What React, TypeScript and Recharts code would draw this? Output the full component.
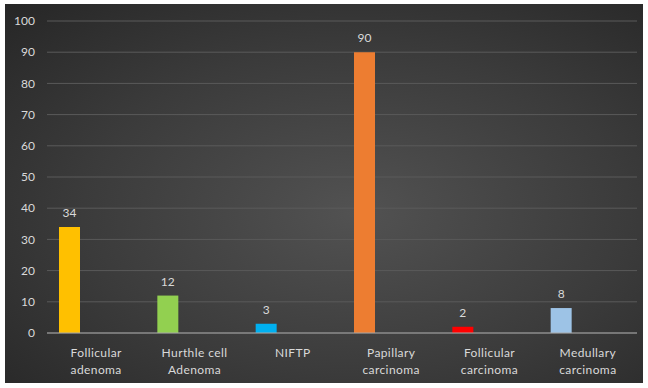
import React from "react";
import { BarChart, Bar, XAxis, YAxis, CartesianGrid, LabelList, Cell } from "recharts";

const categories = [
    ["Follicular", "adenoma"],
    ["Hurthle cell", "Adenoma"],
    ["NIFTP"],
    ["Papillary", "carcinoma"],
    ["Follicular", "carcinoma"],
    ["Medullary", "carcinoma"],
];
const counts = [34, 12, 3, 90, 2, 8];
const barColors = ["#FFC000", "#92D050", "#00B0F0", "#ED7D31", "#FF0000", "#9DC3E6"];
const yTicks = [0, 10, 20, 30, 40, 50, 60, 70, 80, 90, 100];

const data = categories.map((lines, i) => ({
    name: lines.join(" "),
    lines,
    count: counts[i],
}));

const TEXT = "#d9d9d9";
const FONT = "Lato, 'Open Sans', sans-serif";

const CategoryTick = (props: any) => {
    const { x, y, index } = props;
    const lines = categories[index] || [];
    return (
        <text x={x} y={y + 16} textAnchor="middle" fill={TEXT} fontSize={12} fontFamily={FONT} letterSpacing={0.4}>
            {lines.map((l: string, i: number) => (
                <tspan key={i} x={x} dy={i === 0 ? 0 : 17}>
                    {l}
                </tspan>
            ))}
        </text>
    );
};

const App = () => {
    return (
        <div
            style={{
                position: "absolute",
                left: 5,
                top: 4,
                width: 638,
                height: 379,
                background:
                    "radial-gradient(ellipse farthest-corner at 55% 55%, #525252 0%, #3b3b3b 55%, #262626 100%)",
            }}
        >
            <BarChart
                width={638}
                height={379}
                data={data}
                margin={{ top: 17, right: 6, bottom: 5, left: 0 }}
                barCategoryGap={12}
                barGap={5}
            >
                <CartesianGrid vertical={false} stroke="#5a5a5a" strokeWidth={1} />
                <XAxis
                    dataKey="name"
                    height={45}
                    tickLine={false}
                    axisLine={{ stroke: "#a6a6a6", strokeWidth: 1 }}
                    tick={<CategoryTick />}
                    interval={0}
                />
                <YAxis
                    width={42}
                    domain={[0, 100]}
                    ticks={yTicks}
                    axisLine={false}
                    tickLine={false}
                    tickSize={0}
                    tickMargin={12}
                    tick={{ fill: TEXT, fontSize: 12, fontFamily: FONT }}
                />
                <Bar dataKey="count" isAnimationActive={false}>
                    {counts.map((_, i) => (
                        <Cell key={i} fill={barColors[i]} />
                    ))}
                    <LabelList
                        dataKey="count"
                        position="top"
                        offset={10}
                        fill={TEXT}
                        fontSize={12}
                        fontFamily={FONT}
                    />
                </Bar>
                <Bar dataKey="spare1" isAnimationActive={false} />
                <Bar dataKey="spare2" isAnimationActive={false} />
            </BarChart>
        </div>
    );
};

export default App;
